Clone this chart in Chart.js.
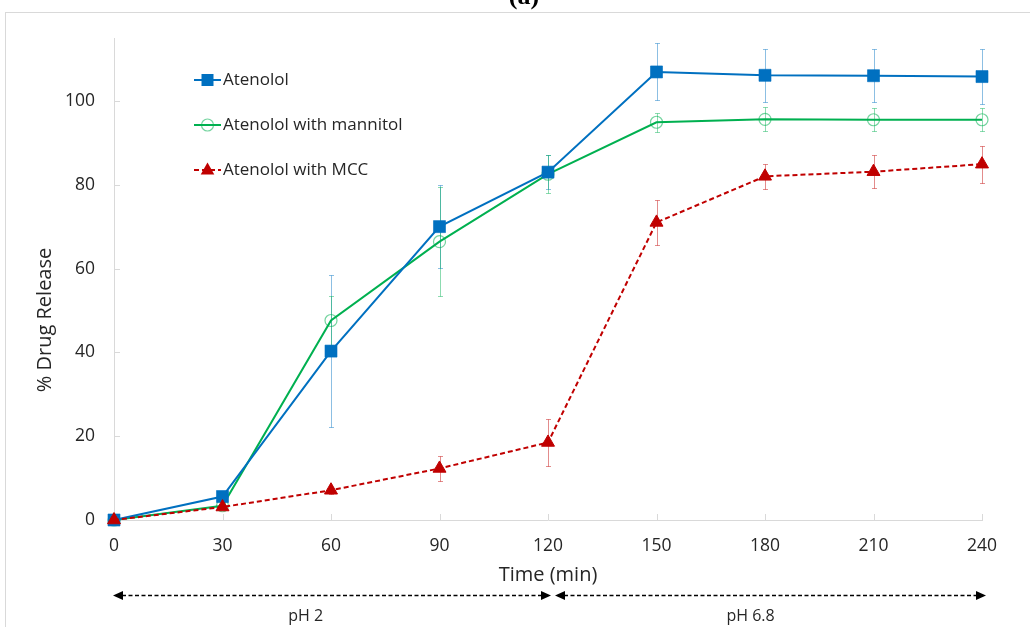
<!DOCTYPE html>
<html>
<head>
<meta charset="utf-8">
<script src="https://cdn.jsdelivr.net/npm/chart.js@4/dist/chart.umd.min.js"></script>
<style>
  html, body { margin: 0; padding: 0; background: #fff; }
</style>
</head>
<body>
<canvas id="grafico" width="1030" height="627"></canvas>
<script>
// datos
const tiempos = [0, 30, 60, 90, 120, 150, 180, 210, 240];
const atenolol = [0, 5.6, 40.3, 70.0, 83.0, 106.9, 106.1, 106.0, 105.8];
const atenololSd = [0.3, 0.8, 18.2, 9.9, 4.0, 6.8, 6.3, 6.3, 6.6];
const manitol = [0, 3.4, 47.6, 66.4, 82.5, 94.9, 95.6, 95.5, 95.5];
const manitolSd = [0.2, 0.6, 5.8, 13.0, 4.6, 2.3, 2.9, 2.7, 2.7];
const mcc = [0, 3.1, 7.1, 12.3, 18.5, 71.0, 82.0, 83.1, 84.9];
const mccSd = [0.2, 0.4, 0.8, 3.0, 5.5, 5.3, 3.0, 4.0, 4.4];
const nombres = ['Atenolol', 'Atenolol with mannitol', 'Atenolol with MCC'];
const ticksY = [0, 20, 40, 60, 80, 100];
const tituloY = '% Drug Release';
const fases = ['pH 2', 'pH 6.8'];
const limitesFases = [0, 120, 240];
const posTextoFases = [53, 176];

const fuente = '"Open Sans", Lato, sans-serif';

function puntos(valores) {
    return tiempos.map((t, i) => ({ x: t, y: valores[i] }));
}

Chart.defaults.font.family = fuente;
Chart.defaults.color = '#262626';

// marcador para la leyenda
function marcador(ctx, tipo, x, y) {
    ctx.beginPath();
    if (tipo === 'rect') {
        ctx.rect(x - 6, y - 6, 12, 12);
        ctx.fill();
    } else if (tipo === 'circle') {
        ctx.arc(x, y, 6, 0, Math.PI * 2);
        ctx.stroke();
    } else {
        ctx.moveTo(x, y - 7.5);
        ctx.lineTo(x + 6.8, y + 4.5);
        ctx.lineTo(x - 6.8, y + 4.5);
        ctx.closePath();
        ctx.fill();
    }
}

const marco = {
    id: 'marco',
    beforeDraw(chart) {
        const ctx = chart.ctx;
        ctx.save();
        ctx.fillStyle = '#fff';
        ctx.fillRect(0, 0, chart.width, chart.height);
        ctx.strokeStyle = '#d9d9d9';
        ctx.lineWidth = 1;
        ctx.strokeRect(5.5, 12.5, 1040, 700);
        // titulo (a), cortado arriba
        ctx.fillStyle = '#000';
        ctx.font = 'bold 26px "Liberation Serif", serif';
        ctx.textAlign = 'center';
        ctx.textBaseline = 'alphabetic';
        ctx.fillText('(a)', 524, 4);
        // titulo del eje y
        ctx.save();
        ctx.translate(45, 320);
        ctx.rotate(-Math.PI / 2);
        ctx.fillStyle = '#262626';
        ctx.font = '20px ' + fuente;
        ctx.textAlign = 'center';
        ctx.textBaseline = 'middle';
        ctx.fillText(tituloY, 0, 0);
        ctx.restore();
        ctx.restore();
    }
};

const barrasError = {
    id: 'barrasError',
    beforeDatasetsDraw(chart) {
        const { ctx, scales: { x, y } } = chart;
        ctx.save();
        // marcas de los ejes hacia dentro
        ctx.strokeStyle = '#d9d9d9';
        ctx.lineWidth = 1;
        x.ticks.forEach(t => {
            const px = Math.round(x.getPixelForValue(t.value)) + 0.5;
            ctx.beginPath();
            ctx.moveTo(px, y.bottom);
            ctx.lineTo(px, y.bottom - 6);
            ctx.stroke();
        });
        y.ticks.forEach(t => {
            const py = Math.round(y.getPixelForValue(t.value)) + 0.5;
            ctx.beginPath();
            ctx.moveTo(x.left, py);
            ctx.lineTo(x.left + 6, py);
            ctx.stroke();
        });

        chart.data.datasets.forEach(ds => {
            ctx.strokeStyle = ds.colorError;
            ds.data.forEach((p, j) => {
                const sd = ds.desviacion[j];
                const px = Math.round(x.getPixelForValue(p.x)) + 0.5;
                const top = Math.round(y.getPixelForValue(p.y + sd)) + 0.5;
                const bot = Math.round(y.getPixelForValue(p.y - sd)) + 0.5;
                ctx.beginPath();
                ctx.moveTo(px, top);
                ctx.lineTo(px, bot);
                ctx.moveTo(px - 2.5, top);
                ctx.lineTo(px + 2.5, top);
                ctx.moveTo(px - 2.5, bot);
                ctx.lineTo(px + 2.5, bot);
                ctx.stroke();
            });
        });
        ctx.restore();
    }
};

const leyenda = {
    id: 'leyenda',
    afterDraw(chart) {
        const ctx = chart.ctx;
        ctx.save();
        chart.data.datasets.forEach((ds, i) => {
            const yy = 80 + i * 45;
            ctx.strokeStyle = ds.borderColor;
            ctx.lineWidth = 2;
            ctx.setLineDash(ds.borderDash || []);
            ctx.beginPath();
            ctx.moveTo(194, yy);
            ctx.lineTo(221, yy);
            ctx.stroke();
            ctx.setLineDash([]);
            ctx.fillStyle = ds.pointBackgroundColor;
            ctx.strokeStyle = ds.pointBorderColor;
            ctx.lineWidth = 1.2;
            marcador(ctx, ds.pointStyle, 207.5, yy);
            ctx.fillStyle = '#262626';
            ctx.font = '17px ' + fuente;
            ctx.textAlign = 'left';
            ctx.textBaseline = 'middle';
            ctx.fillText(ds.label, 223, yy);
        });
        ctx.restore();
    }
};

const flechas = {
    id: 'flechas',
    afterDraw(chart) {
        const { ctx, scales: { x } } = chart;
        const yy = 595.5;
        ctx.save();
        ctx.strokeStyle = '#000';
        ctx.fillStyle = '#000';
        ctx.lineWidth = 1.7;
        for (let i = 0; i < fases.length; i++) {
            const a = x.getPixelForValue(limitesFases[i]) + (i === 0 ? -1 : 7);
            const b = x.getPixelForValue(limitesFases[i + 1]) + (i === 0 ? 3 : 4);
            ctx.setLineDash([4, 2.5]);
            ctx.beginPath();
            ctx.moveTo(a + 9, yy);
            ctx.lineTo(b - 9, yy);
            ctx.stroke();
            ctx.setLineDash([]);
            ctx.beginPath();
            ctx.moveTo(a, yy);
            ctx.lineTo(a + 10, yy - 4.5);
            ctx.lineTo(a + 10, yy + 4.5);
            ctx.closePath();
            ctx.fill();
            ctx.beginPath();
            ctx.moveTo(b, yy);
            ctx.lineTo(b - 10, yy - 4.5);
            ctx.lineTo(b - 10, yy + 4.5);
            ctx.closePath();
            ctx.fill();

            ctx.font = '16px ' + fuente;
            ctx.textAlign = 'center';
            ctx.textBaseline = 'middle';
            ctx.fillStyle = '#262626';
            ctx.fillText(fases[i], x.getPixelForValue(posTextoFases[i]), 616);
            ctx.fillStyle = '#000';
        }
        ctx.restore();
    }
};

const ctx = document.getElementById('grafico').getContext('2d');
new Chart(ctx, {
    type: 'line',
    data: {
        datasets: [{
            label: nombres[0],
            data: puntos(atenolol),
            desviacion: atenololSd,
            colorError: 'rgba(0,112,192,0.45)',
            borderColor: '#0070C0',
            borderWidth: 2,
            pointStyle: 'rect',
            pointRadius: 8.5,
            pointBackgroundColor: '#0070C0',
            pointBorderColor: 'rgba(0,112,192,0.6)',
            pointBorderWidth: 1,
            clip: false,
            order: 1
        }, {
            label: nombres[1],
            data: puntos(manitol),
            desviacion: manitolSd,
            colorError: 'rgba(0,176,80,0.45)',
            borderColor: '#00B050',
            borderWidth: 2,
            pointStyle: 'circle',
            pointRadius: 6,
            pointBackgroundColor: 'rgba(255,255,255,0)',
            pointBorderColor: 'rgba(0,176,80,0.55)',
            pointBorderWidth: 1.2,
            clip: false,
            order: 2
        }, {
            label: nombres[2],
            data: puntos(mcc),
            desviacion: mccSd,
            colorError: 'rgba(192,0,0,0.45)',
            borderColor: '#C00000',
            borderWidth: 2,
            borderDash: [5, 3],
            pointStyle: 'triangle',
            pointRadius: 7.5,
            pointBackgroundColor: '#C00000',
            pointBorderColor: '#C00000',
            pointBorderWidth: 1,
            clip: false,
            order: 0
        }]
    },
    options: {
        responsive: false,
        animation: false,
        layout: { padding: { left: 0, top: 38, right: 48, bottom: 37 } },
        plugins: { legend: { display: false }, tooltip: { enabled: false } },
        scales: {
            x: {
                type: 'linear',
                min: 0,
                max: 240,
                ticks: { stepSize: 30, padding: 16, font: { size: 17.5 }, color: '#262626', maxRotation: 0 },
                grid: { display: false, drawTicks: false },
                border: { display: true, color: '#d9d9d9' },
                title: { display: true, text: 'Time (min)', font: { size: 20 }, color: '#262626', padding: { top: 0, bottom: 3 } },
                afterFit(scale) { scale.height = 70; }
            },
            y: {
                min: 0,
                max: 115,
                afterBuildTicks(scale) { scale.ticks = ticksY.map(v => ({ value: v })); },
                ticks: { padding: 19, font: { size: 17.5 }, color: '#262626' },
                grid: { display: false, drawTicks: false },
                border: { display: true, color: '#d9d9d9' },
                title: { display: false },
                afterFit(scale) { scale.width = 114; }
            }
        }
    },
    plugins: [marco, barrasError, leyenda, flechas]
});
</script>
</body>
</html>
